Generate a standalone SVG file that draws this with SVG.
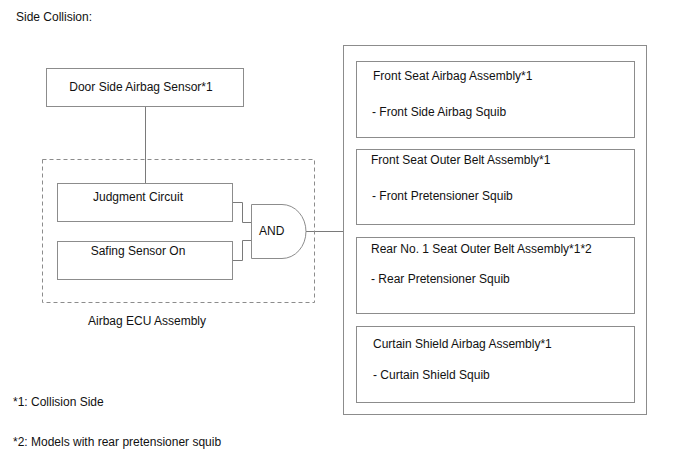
<svg xmlns="http://www.w3.org/2000/svg" width="688" height="463" viewBox="0 0 688 463">
<style>
text{font-family:"Liberation Sans",Arial,sans-serif;font-size:12px;fill:#111}
.b{fill:#fff;stroke:#8c8c8c;stroke-width:1}
.w{fill:none;stroke:#7a7a7a;stroke-width:1}
.d{fill:none;stroke:#8c8c8c;stroke-width:1;stroke-dasharray:4,3}
</style>
<rect width="688" height="463" fill="#fff"/>
<text x="16" y="21">Side Collision:</text>
<g id="connectors">
<path class="w" d="M145.5 106 V183"/>
<path class="w" d="M232 202.5 H242.5 V222.5 H251"/>
<path class="w" d="M232 260.5 H242.5 V240.5 H251"/>
<path class="w" d="M306 231.5 H343"/>
</g>
<g id="ecu">
<rect class="d" x="42.5" y="159.5" width="272" height="143"/>
<text x="147" y="325" text-anchor="middle">Airbag ECU Assembly</text>
</g>
<g id="door-sensor">
<rect class="b" x="46.5" y="68.5" width="197" height="38"/>
<text x="141" y="91" text-anchor="middle">Door Side Airbag Sensor*1</text>
</g>
<g id="judgment">
<rect class="b" x="57.5" y="183.5" width="175" height="38"/>
<text x="138" y="201" text-anchor="middle">Judgment Circuit</text>
</g>
<g id="safing">
<rect class="b" x="57.5" y="241.5" width="175" height="38"/>
<text x="138" y="255" text-anchor="middle">Safing Sensor On</text>
</g>
<g id="and">
<path class="b" d="M251.5 204.5 H282 A24 27 0 0 1 282 258.5 H251.5 Z"/>
<text x="259" y="235">AND</text>
</g>
<g id="outputs">
<rect class="b" x="343.5" y="45.5" width="303" height="369"/>
</g>
<g id="front-seat-airbag">
<rect class="b" x="356.5" y="61.5" width="278" height="76"/>
<text x="373" y="80">Front Seat Airbag Assembly*1</text>
<text x="372" y="116">- Front Side Airbag Squib</text>
</g>
<g id="front-belt">
<rect class="b" x="356.5" y="149.5" width="278" height="75"/>
<text x="371" y="164">Front Seat Outer Belt Assembly*1</text>
<text x="372" y="200">- Front Pretensioner Squib</text>
</g>
<g id="rear-belt">
<rect class="b" x="356.5" y="237.5" width="278" height="76"/>
<text x="371" y="253">Rear No. 1 Seat Outer Belt Assembly*1*2</text>
<text x="371" y="283">- Rear Pretensioner Squib</text>
</g>
<g id="curtain">
<rect class="b" x="356.5" y="326.5" width="278" height="76"/>
<text x="373" y="348">Curtain Shield Airbag Assembly*1</text>
<text x="373" y="379">- Curtain Shield Squib</text>
</g>
<text x="13" y="406">*1: Collision Side</text>
<text x="13" y="446">*2: Models with rear pretensioner squib</text>
</svg>
